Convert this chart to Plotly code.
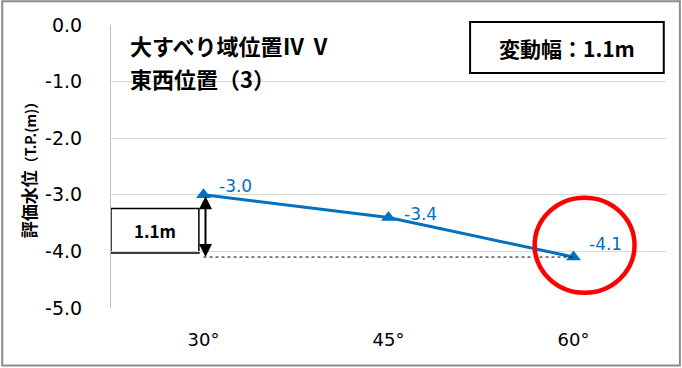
import plotly.graph_objects as go

# data
categories = ["30°", "45°", "60°"]
water_level = [-3.0, -3.4, -4.1]
y_ticks = [0.0, -1.0, -2.0, -3.0, -4.0, -5.0]
y_tick_text = ["0.0", "-1.0", "-2.0", "-3.0", "-4.0", "-5.0"]
title_lines = ["大すべり域位置Ⅳ Ⅴ", "東西位置（3）"]
range_text = "変動幅：1.1m"
range_value = max(water_level) - min(water_level)

BLUE = "#0070C0"
JP = "Noto Sans CJK JP"
NUM = "DejaVu Sans"

fig = go.Figure()

fig.add_trace(go.Scatter(
    x=categories, y=water_level, mode="lines+markers",
    line=dict(color=BLUE, width=3),
    marker=dict(symbol="triangle-up", size=13, color=BLUE),
    showlegend=False, hoverinfo="skip",
))

# data labels
for c, v, dy in zip(categories, water_level, [9, 3, 13]):
    fig.add_annotation(x=c, y=v, text=f"{v:.1f}", showarrow=False,
                       xanchor="left", yanchor="middle", xshift=13, yshift=dy,
                       font=dict(family=NUM, size=17, color=BLUE))

# dotted reference line at the minimum
fig.add_shape(type="line", xref="x", yref="y",
              x0=categories[0], x1=categories[-1],
              y0=min(water_level), y1=min(water_level),
              line=dict(color="black", width=1, dash="dot"))

# double arrow showing the range
fig.add_annotation(x=0, y=min(water_level), ax=0, ay=max(water_level),
                   xref="x", yref="y", axref="x", ayref="y",
                   text="", showarrow=True, arrowhead=2, arrowside="end+start",
                   arrowsize=1.3, arrowwidth=2, arrowcolor="black", xshift=2)

# "1.1m" box
fig.add_shape(type="rect", xref="x", yref="y", x0=-0.5, x1=-0.025, y0=-4.03, y1=-3.24,
              line=dict(color="black", width=1.5), fillcolor="white", layer="below")
fig.add_annotation(x=-0.26, y=-3.63, xref="x", yref="y", text=f"<b>{range_value:.1f}m</b>",
                   showarrow=False, xanchor="center", yanchor="middle",
                   font=dict(family=JP, size=17, color="black"))

# red circle around the last point
fig.add_shape(type="circle", xref="x", yref="y", x0=1.79, x1=2.33, y0=-4.73, y1=-3.05,
              line=dict(color="#FF0000", width=4.5))

# title (two lines)
for line, ty in zip(title_lines, [0.929, 0.813]):
    fig.add_annotation(x=0.03, y=ty, xref="paper", yref="paper", xanchor="left", yanchor="middle",
                       text=f"<b>{line}</b>", showarrow=False,
                       font=dict(family=JP, size=22, color="black"))

# 変動幅 box
fig.add_shape(type="rect", xref="paper", yref="paper", x0=0.647, x1=0.996, y0=0.830, y1=1.011,
              line=dict(color="black", width=2), fillcolor="white", layer="below")
fig.add_annotation(x=0.8215, y=0.92, xref="paper", yref="paper", text=f"<b>{range_text}</b>",
                   showarrow=False, xanchor="center", yanchor="middle",
                   font=dict(family=JP, size=21, color="black"))

# outer frame
fig.add_shape(type="rect", xref="paper", yref="paper", x0=-0.196, x1=1.025, y0=-0.203, y1=1.084,
              line=dict(color="#8c8c8c", width=2))

fig.update_xaxes(type="category", range=[-0.5, 2.5], showgrid=False, showline=False,
                 automargin=False,
                 ticks="", tickfont=dict(family=NUM, size=18, color="black"), ticklabelstandoff=19)
fig.update_yaxes(range=[-5.0, 0.0], tickvals=y_ticks, ticktext=y_tick_text,
                 showgrid=True, gridcolor="#d9d9d9", gridwidth=1, automargin=False,
                 showline=True, linecolor="#bfbfbf", linewidth=1, zeroline=False,
                 ticks="", tickfont=dict(family=NUM, size=19, color="black"), ticklabelstandoff=24,
                 title=dict(text="<b>評価水位<span style='font-size:14px'>（T.P.(m)）</span></b>",
                            font=dict(family=JP, size=17, color="black"), standoff=4))

fig.update_layout(
    width=682, height=368,
    margin=dict(l=111, r=16, t=25, b=60),
    paper_bgcolor="white", plot_bgcolor="white",
)

fig.write_html("out.html", config={"displayModeBar": False},
               post_script="document.body.style.margin='0';")
